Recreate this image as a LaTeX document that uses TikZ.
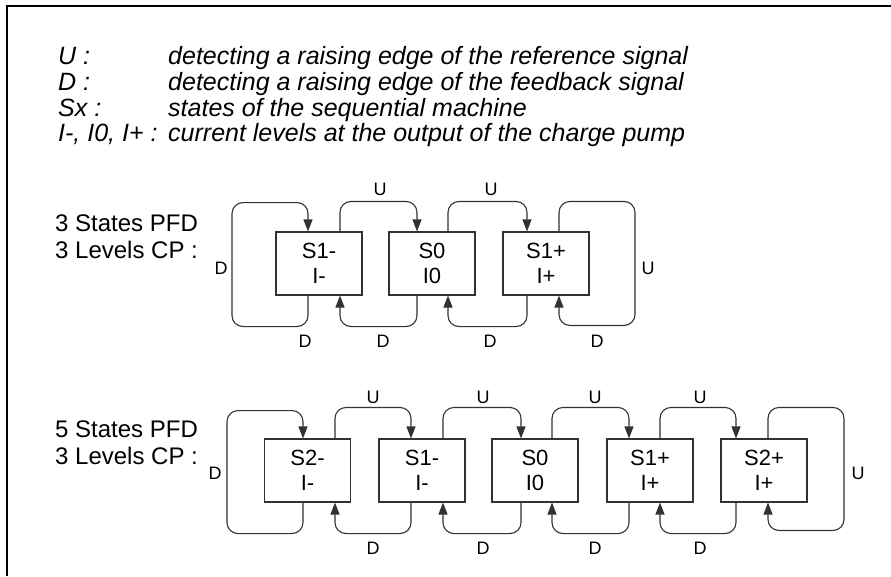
\documentclass[tikz,border=0pt]{standalone}
\usepackage{fontspec}
\setmainfont{Liberation Sans}
\usetikzlibrary{calc,arrows.meta}
\definecolor{linec}{RGB}{50,50,50}
\begin{document}
\begin{tikzpicture}[x=1pt,y=-1pt,
  box/.style={draw=linec, line width=1.1pt, minimum width=86pt, minimum height=63pt, inner sep=0pt, font=\fontsize{22}{25}\selectfont, align=center},
  conn/.style={draw=linec, line width=1.1pt, rounded corners=11pt, -{Triangle[length=12pt,width=9pt]}},
  lbl/.style={font=\fontsize{18}{20}\selectfont, inner sep=0pt},
  big/.style={font=\fontsize{24}{27}\selectfont, inner sep=0pt, anchor=base west},
  leg/.style={font=\fontsize{25}{28}\selectfont\itshape, inner sep=0pt, anchor=base west}]
\useasboundingbox (0,0) rectangle (891,576);
\fill[white] (0,0) rectangle (891,576);
\draw[line width=2pt] (7,576) -- (7,6) -- (891,6);

% legend
\node[leg] (k1) at (58,64) {U :};
\node[leg] (k2) at (58,90) {D :};
\node[leg] (k3) at (58,116) {Sx :};
\node[leg] (k4) at (58,141) {I-, I0, I+ :};
\node[leg] (t1) at (168,64) {detecting a raising edge of the reference signal};
\node[leg] (t2) at (168,90) {detecting a raising edge of the feedback signal};
\node[leg] (t3) at (168,116) {states of the sequential machine};
\node[leg] (t4) at (168,141) {current levels at the output of the charge pump};

% top diagram
\node[big] (h1) at (55,231) {3 States PFD};
\node[big] (h2) at (55,258) {3 Levels CP :};
\node[box] (a1) at (319,263.5) {S1-\\I-};
\node[box] (a2) at (432,263.5) {S0\\I0};
\node[box] (a3) at (546,263.5) {S1+\\I+};

\draw[conn] ([xshift=-11pt]a1.south) -- ++(0,31) -- ++(-76,0) -- ++(0,-124) -| ([xshift=-11pt]a1.north);
\draw[conn] ([xshift=21pt]a1.north) -- ++(0,-30) -| ([xshift=-15pt]a2.north);
\draw[conn] ([xshift=16pt]a2.north) -- ++(0,-30) -| ([xshift=-19pt]a3.north);
\draw[conn] ([xshift=13pt]a3.north) -- ++(0,-30) -- ++(76,0) -- ++(0,124) -| ([xshift=13pt]a3.south);
\draw[conn] ([xshift=-15pt]a2.south) -- ++(0,31) -| ([xshift=21pt]a1.south);
\draw[conn] ([xshift=-19pt]a3.south) -- ++(0,31) -| ([xshift=16pt]a2.south);

\node[lbl] (au1) at (380,189) {U};
\node[lbl] (au2) at (491,189) {U};
\node[lbl] (ad0) at (221,268) {D};
\node[lbl] (au3) at (648,268) {U};
\node[lbl] (ad1) at (305,341) {D};
\node[lbl] (ad2) at (383,341) {D};
\node[lbl] (ad3) at (490,341) {D};
\node[lbl] (ad4) at (597,341) {D};

% bottom diagram
\node[big] (h3) at (55,437) {5 States PFD};
\node[big] (h4) at (55,464) {3 Levels CP :};
\node[box] (b1) at (307.5,470.5) {S2-\\I-};
\node[box] (b2) at (422,470.5) {S1-\\I-};
\node[box] (b3) at (535,470.5) {S0\\I0};
\node[box] (b4) at (650,470.5) {S1+\\I+};
\node[box] (b5) at (764,470.5) {S2+\\I+};

\draw[conn] ([xshift=-4.5pt]b1.south) -- ++(0,31) -- ++(-76,0) -- ++(0,-123) -| ([xshift=-4.5pt]b1.north);
\draw[conn] ([xshift=4pt]b5.north) -- ++(0,-31) -- ++(76,0) -- ++(0,123) -| ([xshift=4pt]b5.south);

\draw[conn] ([xshift=27.5pt]b1.north) -- ++(0,-31) -| ([xshift=-11pt]b2.north);
\draw[conn] ([xshift=21pt]b2.north) -- ++(0,-31) -| ([xshift=-14pt]b3.north);
\draw[conn] ([xshift=17pt]b3.north) -- ++(0,-31) -| ([xshift=-21pt]b4.north);
\draw[conn] ([xshift=10pt]b4.north) -- ++(0,-31) -| ([xshift=-28pt]b5.north);

\draw[conn] ([xshift=-11pt]b2.south) -- ++(0,31) -| ([xshift=27.5pt]b1.south);
\draw[conn] ([xshift=-14pt]b3.south) -- ++(0,31) -| ([xshift=21pt]b2.south);
\draw[conn] ([xshift=-21pt]b4.south) -- ++(0,31) -| ([xshift=17pt]b3.south);
\draw[conn] ([xshift=-28pt]b5.south) -- ++(0,31) -| ([xshift=10pt]b4.south);

\node[lbl] (bu1) at (373,397) {U};
\node[lbl] (bu2) at (483,397) {U};
\node[lbl] (bu3) at (595,397) {U};
\node[lbl] (bu4) at (700,397) {U};
\node[lbl] (bd1) at (373,548) {D};
\node[lbl] (bd2) at (483,548) {D};
\node[lbl] (bd3) at (595,548) {D};
\node[lbl] (bd4) at (700,548) {D};
\node[lbl] (bd0) at (215,473) {D};
\node[lbl] (bu5) at (858,473) {U};
\end{tikzpicture}
\end{document}
